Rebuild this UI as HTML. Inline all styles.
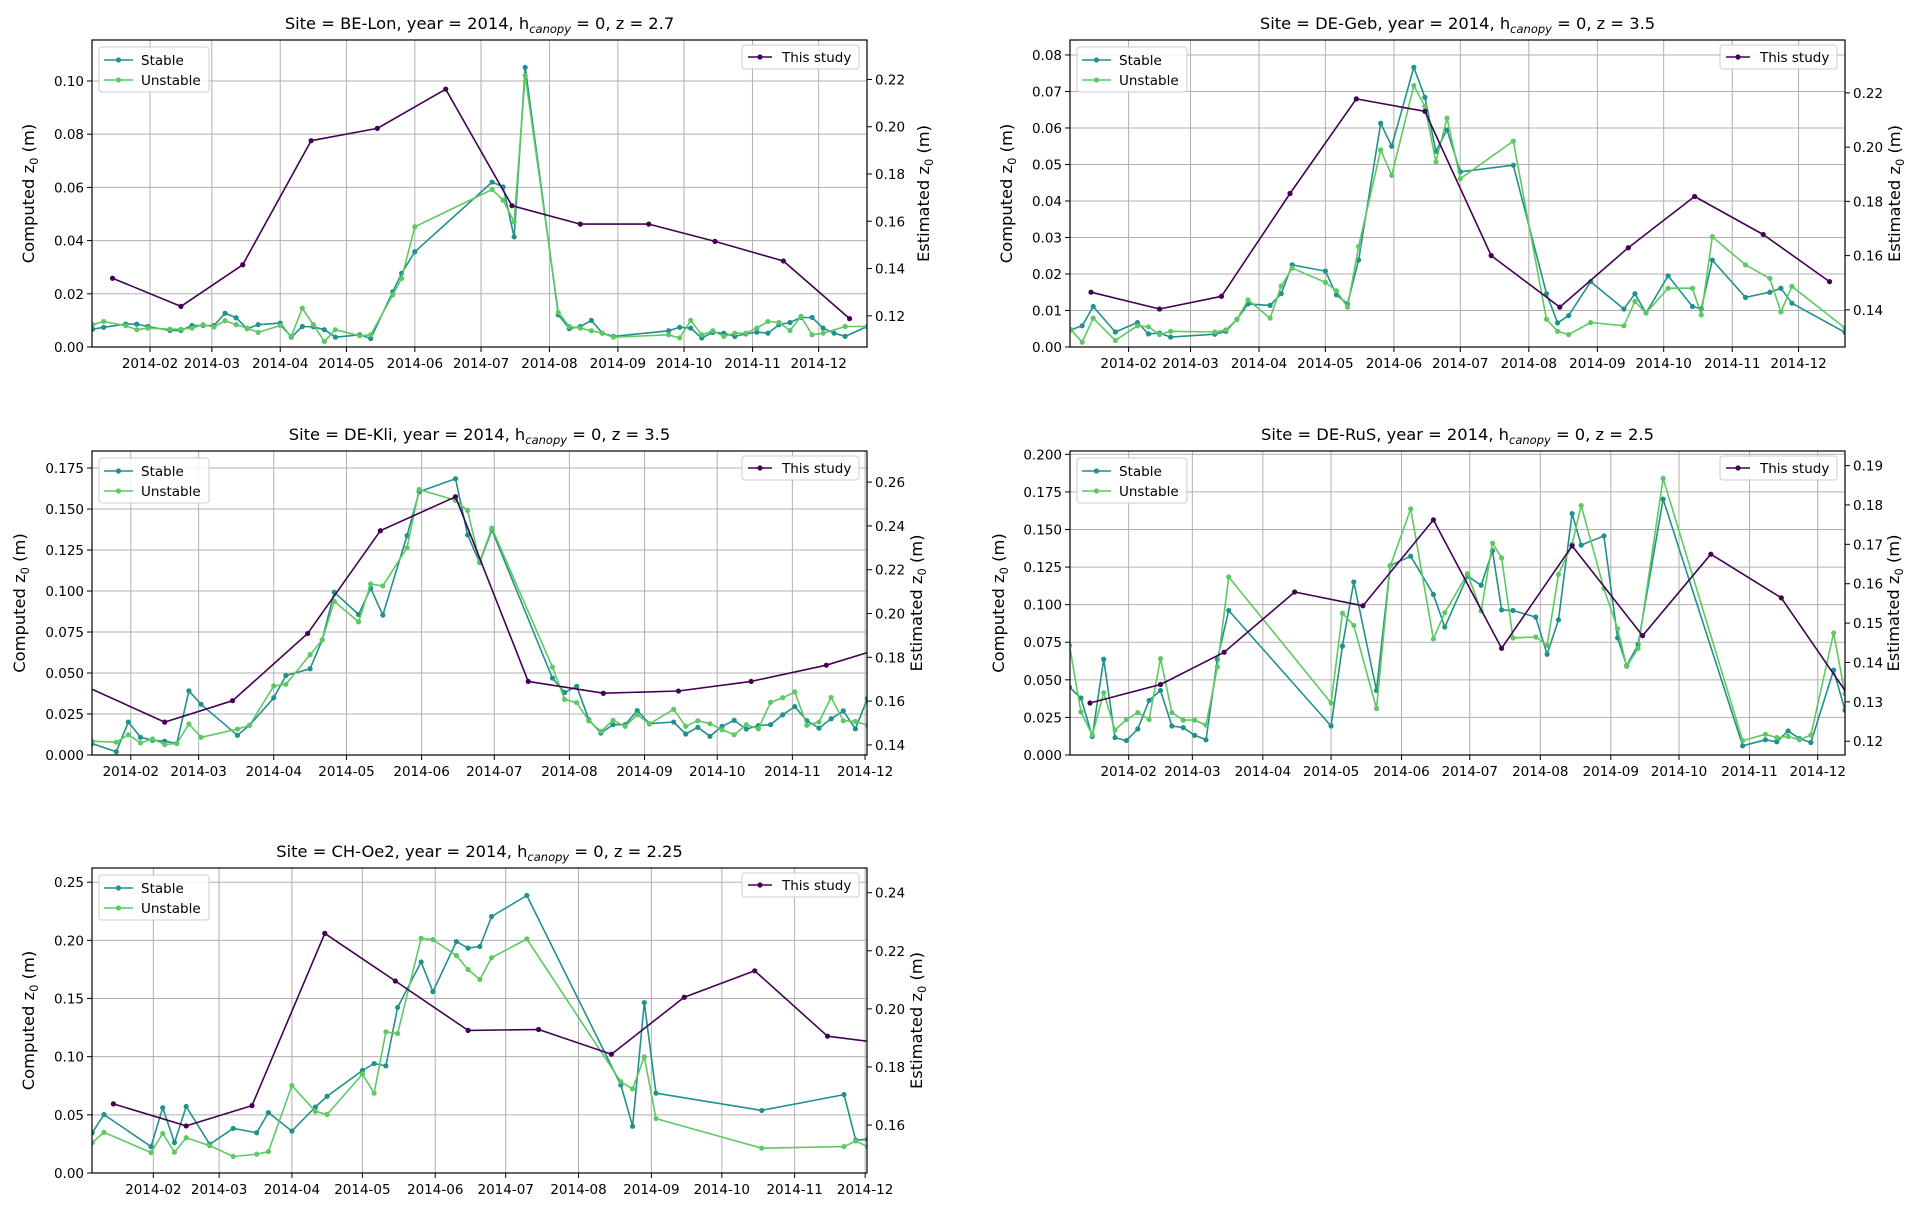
<!DOCTYPE html>
<html><head><meta charset="utf-8">
<style>
html,body{margin:0;padding:0;background:#fff;}
svg{display:block;font-family:"DejaVu Sans","Liberation Sans",sans-serif;}
</style></head>
<body>
<svg id="fig" xmlns="http://www.w3.org/2000/svg" width="1925" height="1209" viewBox="0 0 1925 1209">
<rect width="1925" height="1209" fill="#fff"/>
</svg>
<script>
// ---- shared data ----
const monthTickDays = [31,59,90,120,151,181,212,243,273,304,334];
const monthTickLabels = ["2014-02","2014-03","2014-04","2014-05","2014-06","2014-07","2014-08","2014-09","2014-10","2014-11","2014-12"];
const studyDays = [14,45,73,104,134,165,195,226,257,287,318,348];

// ---- BE-Lon ----
const beLonStableDays = [5,10,20,25,30,40,45,50,55,60,65,70,75,80,90,95,100,105,110,115,126,131,141,145,151,186,191,196,201,216,221,226,231,236,241,266,271,276,281,286,291,296,301,306,311,316,321,326,331,336,341,346,356];
const beLonStableVals = [.0067,.0074,.0086,.0086,.0077,.0062,.0062,.0081,.0081,.0081,.0127,.0110,.0069,.0084,.0090,.0037,.0077,.0076,.0065,.0037,.0046,.0032,.0208,.0277,.0358,.0620,.0602,.0414,.1051,.0121,.0069,.0077,.0100,.0052,.0040,.0061,.0074,.0071,.0034,.0055,.0052,.0040,.0049,.0056,.0052,.0084,.0092,.0111,.0111,.0071,.0052,.0040,.0077];
const beLonUnstableDays = [5,10,20,25,30,40,45,50,55,60,65,70,75,80,90,95,100,105,110,115,126,131,141,145,151,186,191,196,201,216,221,226,231,236,241,266,271,276,281,286,291,296,301,306,311,316,321,326,331,336,346,356];
const beLonUnstableVals = [.0084,.0096,.0080,.0065,.0071,.0067,.0067,.0071,.0084,.0075,.0099,.0084,.0071,.0055,.0081,.0040,.0146,.0084,.0021,.0065,.0042,.0046,.0196,.0258,.0452,.0592,.0552,.0470,.1020,.0130,.0077,.0071,.0061,.0052,.0037,.0046,.0034,.0100,.0046,.0061,.0040,.0052,.0052,.0071,.0096,.0092,.0062,.0115,.0046,.0052,.0077,.0077];
const beLonStudyVals = [0.1359,0.1240,0.1416,0.1941,0.1993,0.2159,0.1666,0.1588,0.1588,0.1515,0.1432,0.1188];

// ---- DE-Geb ----
const deGebDays = [5,10,15,25,35,40,45,50,70,75,80,85,95,100,105,120,125,130,135,145,150,160,165,170,175,181,205,220,225,230,240,255,260,265,275,286,290,295,310,321,326,331,355];
const deGebStableVals = [.0047,.0058,.0111,.0041,.0067,.0036,.0038,.0027,.0035,.0043,.0076,.0118,.0114,.0146,.0225,.0208,.0143,.0118,.0238,.0613,.0550,.0766,.0684,.0536,.0595,.0480,.0498,.0146,.0066,.0086,.0179,.0104,.0146,.0093,.0195,.0111,.0105,.0238,.0136,.0150,.0161,.0120,.0040];
const deGebUnstableVals = [.0047,.0013,.0079,.0018,.0058,.0055,.0034,.0043,.0041,.0047,.0075,.0129,.0079,.0167,.0216,.0177,.0154,.0109,.0275,.0540,.0470,.0716,.0659,.0507,.0627,.0461,.0564,.0076,.0043,.0034,.0067,.0058,.0125,.0093,.0161,.0161,.0088,.0302,.0225,.0188,.0096,.0166,.0052];
const deGebStudyVals = [0.1465,0.1403,0.1450,0.1829,0.2178,0.2132,0.1600,0.1410,0.1629,0.1818,0.1678,0.1504];

// ---- DE-Kli ----
const deKliDays = [15,25,30,35,40,45,50,55,60,75,80,90,95,105,110,115,125,130,135,145,150,165,170,175,180,205,210,215,220,225,230,235,240,245,255,260,265,270,275,280,285,290,295,300,305,310,315,320,325,330,335];
const deKliStableVals = [.0070,.0020,.0201,.0108,.0090,.0084,.0070,.0391,.0309,.0120,.0181,.0349,.0485,.0526,.0702,.0993,.0857,.1017,.0853,.1338,.1605,.1685,.1342,.1174,.1372,.0469,.0381,.0419,.0215,.0134,.0185,.0185,.0271,.0191,.0201,.0128,.0169,.0114,.0175,.0211,.0158,.0179,.0185,.0245,.0295,.0209,.0164,.0221,.0269,.0160,.0345];
const deKliUnstableVals = [.0084,.0078,.0124,.0074,.0098,.0064,.0070,.0189,.0108,.0158,.0181,.0421,.0431,.0612,.0702,.0937,.0812,.1043,.1031,.1264,.1619,.1553,.1492,.1178,.1384,.0536,.0339,.0319,.0209,.0144,.0211,.0175,.0245,.0189,.0279,.0175,.0209,.0191,.0154,.0124,.0185,.0160,.0321,.0349,.0385,.0181,.0201,.0351,.0209,.0205,.0181];
const deKliStudyVals = [0.1659,0.1504,0.1602,0.1909,0.2378,0.2533,0.1690,0.1636,0.1646,0.1690,0.1764,0.1866];

// ---- DE-RuS ----
const deRusDays = [5,10,15,20,25,30,35,40,45,50,55,60,65,70,75,120,125,130,140,146,155,165,170,180,186,191,195,200,210,215,220,226,230,240,246,250,255,266,301,311,316,321,326,331,341,346];
const deRusStableVals = [.0451,.0379,.0123,.0637,.0116,.0096,.0173,.0363,.0429,.0193,.0182,.0131,.0101,.0637,.0961,.0193,.0724,.1151,.0429,.1260,.1322,.1068,.0851,.1190,.1129,.1359,.0965,.0961,.0917,.0670,.0899,.1606,.1396,.1457,.0779,.0593,.0735,.1702,.0061,.0101,.0088,.0160,.0109,.0083,.0565,.0298];
const deRusUnstableVals = [.0729,.0287,.0133,.0414,.0166,.0236,.0282,.0236,.0641,.0282,.0232,.0232,.0199,.0586,.1184,.0346,.0943,.0862,.0309,.1256,.1637,.0772,.0947,.1206,.0958,.1409,.1311,.0779,.0785,.0729,.1201,.1403,.1659,.1107,.0840,.0589,.0709,.1840,.0096,.0138,.0116,.0123,.0101,.0133,.0812,.0407];
const deRusStudyVals = [0.1297,0.1344,0.1426,0.1579,0.1544,0.1762,0.1436,0.1696,0.1468,0.1675,0.1564,0.1312];

// ---- CH-Oe2 ----
const chOe2Days = [5,10,30,35,40,45,55,65,75,80,90,100,105,120,125,130,135,145,150,160,165,170,175,190,230,235,240,245,290,325,330,335];
const chOe2StableVals = [.0346,.0502,.0227,.0561,.0261,.0572,.0247,.0383,.0346,.0519,.0360,.0567,.0660,.0881,.0941,.0921,.1423,.1814,.1559,.1989,.1933,.1947,.2205,.2386,.0757,.0402,.1465,.0686,.0538,.0674,.0283,.0289];
const chOe2UnstableVals = [.0261,.0349,.0176,.0340,.0179,.0303,.0235,.0142,.0162,.0184,.0751,.0530,.0504,.0850,.0686,.1213,.1199,.2018,.2006,.1870,.1749,.1664,.1851,.2012,.0785,.0723,.0998,.0468,.0213,.0227,.0275,.0227];
const chOe2StudyVals = [0.1673,0.1597,0.1667,0.2260,0.2096,0.1926,0.1929,0.1844,0.2040,0.2131,0.1906,0.1875];

// ---- tick values ----
const beLonLeftTicks = [0,0.02,0.04,0.06,0.08,0.10];
const beLonRightTicks = [0.12,0.14,0.16,0.18,0.20,0.22];
const deGebLeftTicks = [0,0.01,0.02,0.03,0.04,0.05,0.06,0.07,0.08];
const deGebRightTicks = [0.14,0.16,0.18,0.20,0.22];
const deKliLeftTicks = [0,0.025,0.05,0.075,0.1,0.125,0.15,0.175];
const deKliRightTicks = [0.14,0.16,0.18,0.20,0.22,0.24,0.26];
const deRusLeftTicks = [0,0.025,0.05,0.075,0.1,0.125,0.15,0.175,0.2];
const deRusRightTicks = [0.12,0.13,0.14,0.15,0.16,0.17,0.18,0.19];
const chOe2LeftTicks = [0,0.05,0.1,0.15,0.2,0.25];
const chOe2RightTicks = [0.16,0.18,0.20,0.22,0.24];

const NS = "http://www.w3.org/2000/svg";
const svg = document.getElementById("fig");
const C_ST = "#21918c", C_UN = "#5ec962", C_TS = "#440154";
function mk(tag, attrs, parent) {
  const e = document.createElementNS(NS, tag);
  for (const k in attrs) e.setAttribute(k, attrs[k]);
  (parent || svg).appendChild(e);
  return e;
}

function drawPanel(id, site, z, box, xlim, yl, yr, lt, ldec, rt, rdec, stD, stV, unD, unV, tsV, labL, labR) {
  const g = mk("g", {});
  
  
  const sx = d => box.x0 + (d - xlim[0]) / (xlim[1] - xlim[0]) * (box.x1 - box.x0);
  const syL = v => box.y1 - (v - yl[0]) / (yl[1] - yl[0]) * (box.y1 - box.y0);
  const syR = v => box.y1 - (v - yr[0]) / (yr[1] - yr[0]) * (box.y1 - box.y0);

  // grid
  monthTickDays.forEach((d, i) => {
    const x = sx(d);
    if (x < box.x0 - 0.5 || x > box.x1 + 0.5) return;
    const gl = mk("line", {x1:x, x2:x, y1:box.y0, y2:box.y1, stroke:"#b0b0b0", "stroke-width":1}, g);
    
    
    const tk = mk("line", {x1:x, x2:x, y1:box.y1, y2:box.y1+5, stroke:"#000", "stroke-width":1}, g);
    
    
    const tl = mk("text", {x:x, y:box.y1+21, "font-size":13.5, "text-anchor":"middle", fill:"#000"}, g);
    tl.textContent = monthTickLabels[i];
    
    
  });
  lt.forEach(v => {
    const y = syL(v);
    const gl = mk("line", {x1:box.x0, x2:box.x1, y1:y, y2:y, stroke:"#b0b0b0", "stroke-width":1}, g);
    
    
    const tk = mk("line", {x1:box.x0-5, x2:box.x0, y1:y, y2:y, stroke:"#000", "stroke-width":1}, g);
    
    
    const tl = mk("text", {x:box.x0-8, y:y+5, "font-size":13.5, "text-anchor":"end", fill:"#000"}, g);
    tl.textContent = v.toFixed(ldec);
    
    
  });
  rt.forEach(v => {
    const y = syR(v);
    const tk = mk("line", {x1:box.x1, x2:box.x1+5, y1:y, y2:y, stroke:"#000", "stroke-width":1}, g);
    
    
    const tl = mk("text", {x:box.x1+8, y:y+5, "font-size":13.5, "text-anchor":"start", fill:"#000"}, g);
    tl.textContent = v.toFixed(rdec);
    
    
  });

  // clip
  const cp = mk("clipPath", {id: id + "-clip"}, g);
  mk("rect", {x:box.x0, y:box.y0, width:box.x1-box.x0, height:box.y1-box.y0}, cp);
  const plot = mk("g", {"clip-path": "url(#" + id + "-clip)"}, g);

  function series(days, vals, sy, color, name) {
    const sg = mk("g", {}, plot);
    
    
    const pts = days.map((d, i) => sx(d).toFixed(1) + "," + sy(vals[i]).toFixed(1)).join(" ");
    const pl = mk("polyline", {points:pts, fill:"none", stroke:color, "stroke-width":1.6, "stroke-linejoin":"round"}, sg);
    
    
    days.forEach((d, i) => {
      const c = mk("circle", {cx:sx(d), cy:sy(vals[i]), r:2.6, fill:color}, sg);
      
      
    });
  }
  series(stD, stV, syL, C_ST, "stable-series");
  series(unD, unV, syL, C_UN, "unstable-series");
  series(studyDays, tsV, syR, C_TS, "this-study-series");

  // frame
  const fr = mk("rect", {x:box.x0, y:box.y0, width:box.x1-box.x0, height:box.y1-box.y0, fill:"none", stroke:"#000", "stroke-width":1.2}, g);
  
  

  // title
  const cx = (box.x0 + box.x1) / 2;
  const t = mk("text", {x:cx, y:box.y0-11, "font-size":16.3, "text-anchor":"middle", fill:"#000"}, g);
  
  
  t.appendChild(document.createTextNode("Site = " + site + ", year = 2014, h"));
  const ts = mk("tspan", {"font-size":11.5, "font-style":"italic", dy:4}, t);
  ts.textContent = "canopy";
  const ts2 = mk("tspan", {dy:-4}, t);
  ts2.textContent = " = 0, z = " + z;

  // axis labels
  function ylab(x, txt, name) {
    const yc = (box.y0 + box.y1) / 2;
    const l = mk("text", {x:x, y:yc, "font-size":16.3, "text-anchor":"middle", fill:"#000", transform:"rotate(-90 " + x + " " + yc + ")"}, g);
    
    
    l.appendChild(document.createTextNode(txt + " z"));
    const s = mk("tspan", {"font-size":11.5, dy:4}, l);
    s.textContent = "0";
    const s2 = mk("tspan", {dy:-4}, l);
    s2.textContent = " (m)";
  }
  ylab(labL, "Computed", "y-axis-title-left");
  ylab(labR, "Estimated", "y-axis-title-right");

  // left legend
  const lg = mk("g", {}, g);
  
  
  const lx = box.x0 + 7, ly = box.y0 + 7;
  mk("rect", {x:lx, y:ly, width:110, height:45, rx:3, fill:"#fff", "fill-opacity":0.85, stroke:"#cccccc", "stroke-width":1}, lg);
  [["Stable", C_ST], ["Unstable", C_UN]].forEach((e, i) => {
    const yy = ly + 13 + i * 20;
    const en = mk("g", {}, lg);
    
    
    mk("line", {x1:lx+5, x2:lx+34, y1:yy, y2:yy, stroke:e[1], "stroke-width":1.6}, en);
    mk("circle", {cx:lx+19.5, cy:yy, r:2.6, fill:e[1]}, en);
    const tx = mk("text", {x:lx+42, y:yy+5, "font-size":13.5, fill:"#000"}, en);
    tx.textContent = e[0];
  });
  // right legend
  const rg = mk("g", {}, g);
  
  
  const rw = 117, rx = box.x1 - 8 - rw, ry = box.y0 + 5;
  mk("rect", {x:rx, y:ry, width:rw, height:24, rx:3, fill:"#fff", "fill-opacity":0.85, stroke:"#cccccc", "stroke-width":1}, rg);
  mk("line", {x1:rx+6, x2:rx+30, y1:ry+12, y2:ry+12, stroke:C_TS, "stroke-width":1.6}, rg);
  mk("circle", {cx:rx+18, cy:ry+12, r:2.6, fill:C_TS}, rg);
  const rtx = mk("text", {x:rx+40, y:ry+17, "font-size":13.5, fill:"#000"}, rg);
  rtx.textContent = "This study";
}

drawPanel("be-lon", "BE-Lon", "2.7", {x0:92,x1:867,y0:40,y1:347}, [4.7,355.9], [0,0.1154], [0.1068,0.2367],
  beLonLeftTicks, 2, beLonRightTicks, 2, beLonStableDays, beLonStableVals, beLonUnstableDays, beLonUnstableVals, beLonStudyVals, 34, 929);
drawPanel("de-geb", "DE-Geb", "3.5", {x0:1070,x1:1845,y0:40,y1:347}, [4.5,355], [0,0.0841], [0.1263,0.2395],
  deGebLeftTicks, 2, deGebRightTicks, 2, deGebDays, deGebStableVals, deGebDays, deGebUnstableVals, deGebStudyVals, 1012, 1900);
drawPanel("de-kli", "DE-Kli", "3.5", {x0:92,x1:867,y0:451,y1:755}, [15,334.8], [0,0.1854], [0.1354,0.2742],
  deKliLeftTicks, 3, deKliRightTicks, 2, deKliDays, deKliStableVals, deKliDays, deKliUnstableVals, deKliStudyVals, 25, 922);
drawPanel("de-rus", "DE-RuS", "2.5", {x0:1070,x1:1845,y0:451,y1:755}, [5.2,346], [0,0.2022], [0.1165,0.1937],
  deRusLeftTicks, 3, deRusRightTicks, 2, deRusDays, deRusStableVals, deRusDays, deRusUnstableVals, deRusStudyVals, 1004, 1899);
drawPanel("ch-oe2", "CH-Oe2", "2.25", {x0:92,x1:867,y0:868,y1:1173}, [4.9,334.8], [0,0.2622], [0.1435,0.2485],
  chOe2LeftTicks, 2, chOe2RightTicks, 2, chOe2Days, chOe2StableVals, chOe2Days, chOe2UnstableVals, chOe2StudyVals, 34, 922);
</script>
</body></html>
